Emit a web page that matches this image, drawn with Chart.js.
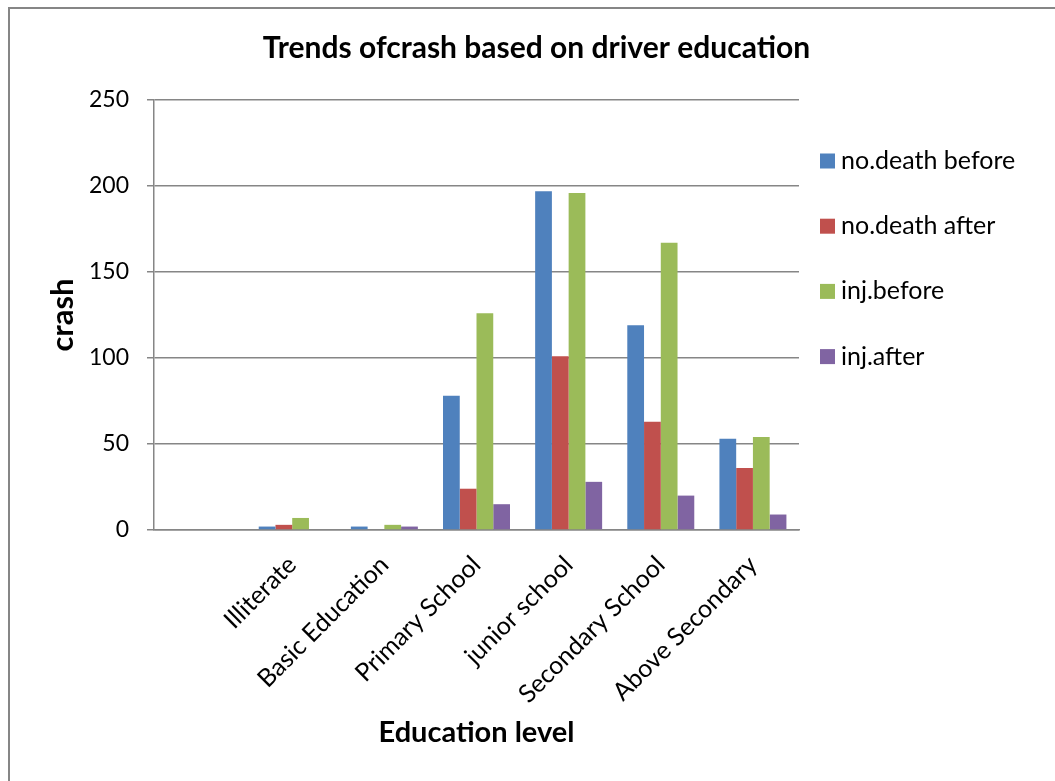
<!DOCTYPE html>
<html>
<head>
<meta charset="utf-8">
<script src="https://cdn.jsdelivr.net/npm/chart.js@4.4.0/dist/chart.umd.min.js"></script>
<style>
    html, body { margin: 0; padding: 0; background: #fff; overflow: hidden; }
    #wrap { position: relative; width: 1055px; height: 781px; overflow: hidden; }
    #frame { position: absolute; left: 8px; top: 7px; width: 1200px; height: 900px; border: 2px solid #868686; box-sizing: border-box; pointer-events: none; }
    canvas { position: absolute; left: 0; top: 0; }
</style>
</head>
<body>
<div id="wrap">
    <canvas id="js-chart" width="1055" height="781"></canvas>
    <div id="frame"></div>
</div>
<script>
const categories = ['', 'Illiterate', 'Basic Education', 'Primary School', 'junior school', 'Secondary School', 'Above Secondary'];
const deathBefore = [null, 2, 2, 78, 197, 119, 53];
const deathAfter = [null, 3, 0, 24, 101, 63, 36];
const injBefore = [null, 7, 3, 126, 196, 167, 54];
const injAfter = [null, 0, 2, 15, 28, 20, 9];
const seriesNames = ['no.death before', 'no.death after', 'inj.before', 'inj.after'];
const seriesColors = ['#4F81BD', '#C0504D', '#9BBB59', '#8064A2'];
const yTicks = [0, 50, 100, 150, 200, 250];

const chartElement = document.getElementById('js-chart');
const gridColor = '#868686';

Chart.defaults.font.family = 'Lato';
Chart.defaults.color = '#000';

// legend on the right, drawn in its own layout box
const sideLegend = {
    id: 'sideLegend',
    beforeInit(chart) {
        const box = {
            position: 'right',
            weight: 0,
            fullSize: false,
            options: {},
            isHorizontal() { return false; },
            update(maxWidth, maxHeight) {
                this.width = 256;
                this.height = maxHeight;
            },
            draw() {
                const ctx = chart.ctx;
                ctx.save();
                ctx.font = '25px Lato';
                ctx.textBaseline = 'middle';
                chart.data.datasets.forEach((ds, i) => {
                    const cy = this.top + 61 + i * 65.2;
                    ctx.fillStyle = ds.backgroundColor;
                    ctx.fillRect(this.left + 21, cy - 7.5, 15, 15);
                    ctx.fillStyle = '#000';
                    ctx.fillText(ds.label, this.left + 42, cy);
                });
                ctx.restore();
            }
        };
        Chart.layouts.addBox(chart, box);
    }
};

const seriesValues = [deathBefore, deathAfter, injBefore, injAfter];

const chartConfig = {
    type: 'bar',
    data: {
        labels: categories,
        datasets: seriesValues.map((values, i) => ({
            label: seriesNames[i],
            data: values,
            backgroundColor: seriesColors[i],
            borderWidth: 0,
            barPercentage: 1,
            categoryPercentage: 0.727
        }))
    },
    options: {
        responsive: false,
        animation: false,
        devicePixelRatio: 1,
        layout: { padding: { left: 18, right: 0, top: 0, bottom: 0 } },
        plugins: {
            legend: { display: false },
            tooltip: { enabled: false },
            title: {
                display: true,
                text: 'Trends ofcrash based on driver education',
                font: { size: 30, weight: 'bold' },
                color: '#000',
                padding: { top: 30, bottom: 34 }
            }
        },
        scales: {
            x: {
                grid: { display: false, drawTicks: false },
                border: { display: true, color: gridColor, width: 1.5 },
                ticks: {
                    font: { size: 25 },
                    minRotation: 45,
                    maxRotation: 45,
                    autoSkip: false,
                    padding: 20
                },
                title: {
                    display: true,
                    text: 'Education level',
                    font: { size: 29, weight: 'bold' },
                    padding: { bottom: 30.6 }
                },
                afterFit(scale) { scale.height = 251; }
            },
            y: {
                min: yTicks[0],
                max: yTicks[yTicks.length - 1],
                ticks: {
                    stepSize: yTicks[1] - yTicks[0],
                    font: { size: 23 },
                    padding: 18
                },
                grid: { color: gridColor, lineWidth: 1.5, tickLength: 7 },
                border: { color: gridColor, width: 1.5 },
                title: {
                    display: true,
                    text: 'crash',
                    font: { size: 31, weight: 'bold' },
                    padding: { top: 26.4 }
                },
                afterFit(scale) { scale.width = 136; }
            }
        }
    },
    plugins: [sideLegend]
};

const barChart = new Chart(chartElement, chartConfig);
</script>
</body>
</html>
